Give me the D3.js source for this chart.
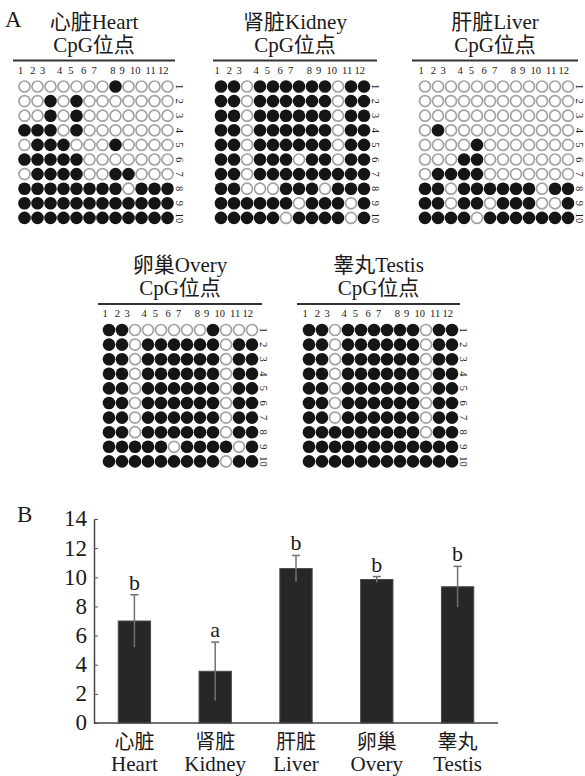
<!DOCTYPE html>
<html>
<head>
<meta charset="utf-8">
<script src="https://cdn.jsdelivr.net/npm/d3@7"></script>
<style>
  body { margin: 0; background: #fff; }
  svg text { font-family: "Liberation Serif", "Noto Sans CJK SC", serif; fill: #1a1a1a; }
</style>
</head>
<body>
<script>
// ---- data ----
// methylation status per clone (row) and CpG site (column), 1 = methylated
var heartRows = ["000000010000", "001010000000", "001010000000", "111010000000", "011100010000",
                 "111110000000", "011110011000", "111111110111", "111111111111", "111111111111"];
var kidneyRows = ["110111111011", "110111111011", "110111111011", "110111111011", "110111111011",
                  "110111011011", "110111111111", "110001110111", "111111011101", "111110111101"];
var liverRows = ["000000000000", "000000000000", "000000000000", "010000000000", "000010000000",
                 "000110000000", "011110000000", "110111111011", "110110111001", "111101111111"];
var ovaryRows = ["110000001000", "110111111011", "110111111011", "110111111011", "110111111011",
                 "110111111011", "110111111011", "110111111011", "111110111101", "111111111011"];
var testisRows = ["110111111011", "110111111011", "110111111011", "110111111011", "110111111011",
                  "110111111011", "110111111011", "111111111011", "111111111111", "111111111111"];

var cpgLabels = ["1", "2", "3", "4", "5", "6", "7", "8", "9", "10", "11", "12"];
var cloneLabels = ["1", "2", "3", "4", "5", "6", "7", "8", "9", "10"];

// bar chart (B)
var tissuesCn = ["心脏", "肾脏", "肝脏", "卵巢", "睾丸"];
var tissuesEn = ["Heart", "Kidney", "Liver", "Overy", "Testis"];
var meanValues = [7.0, 3.55, 10.6, 9.85, 9.35];
var sdValues = [1.8, 2.0, 0.9, 0.2, 1.4];
var sigLetters = ["b", "a", "b", "b", "b"];
var yTicks = [0, 2, 4, 6, 8, 10, 12, 14];

// ---- layout ----
var W = 585, H = 776;
var dx = 13, dy = 14.6;
// label positions along the line, in column units (sites are not evenly spaced)
var colLabelPos = [-0.3, 0.65, 1.4, 2.7, 3.57, 4.55, 5.35, 6.8, 7.5, 8.52, 9.7, 10.67];

var panels = [
  { cn: "心脏", en: "Heart", rows: heartRows, x0: 24.5, y0: 86.5, lx1: 13, lx2: 175 },
  { cn: "肾脏", en: "Kidney", rows: kidneyRows, x0: 221, y0: 86.5, lx1: 213, lx2: 377 },
  { cn: "肝脏", en: "Liver", rows: liverRows, x0: 425, y0: 86.5, lx1: 412, lx2: 578 },
  { cn: "卵巢", en: "Overy", rows: ovaryRows, x0: 109, y0: 330, lx1: 98, lx2: 262 },
  { cn: "睾丸", en: "Testis", rows: testisRows, x0: 309, y0: 330, lx1: 297, lx2: 460 }
];

var svg = d3.select("body").append("svg").attr("width", W).attr("height", H);

// panel letters
svg.append("text").attr("x", 5).attr("y", 27).attr("font-size", 23).text("A");
svg.append("text").attr("x", 17).attr("y", 522).attr("font-size", 23).text("B");

// ---- A: methylation grids ----
panels.forEach(function (p) {
  var g = svg.append("g");
  var xCol = d3.scaleLinear().domain([0, 11]).range([p.x0, p.x0 + 11 * dx]);
  var yRow = d3.scaleLinear().domain([0, 9]).range([p.y0, p.y0 + 9 * dy]);
  var lineY = p.y0 - 26;
  var cx = (p.lx1 + p.lx2) / 2;

  // titles
  g.append("text").attr("x", cx).attr("y", lineY - 32).attr("text-anchor", "middle")
    .attr("font-size", 21).text(p.cn + p.en);
  g.append("text").attr("x", cx).attr("y", lineY - 9).attr("text-anchor", "middle")
    .attr("font-size", 21).text("CpG位点");

  g.append("line").attr("x1", p.lx1).attr("x2", p.lx2).attr("y1", lineY).attr("y2", lineY)
    .attr("stroke", "#333").attr("stroke-width", 2);

  // CpG site numbers
  g.selectAll(".cl").data(cpgLabels).enter().append("text")
    .attr("x", function (d, i) { return xCol(colLabelPos[i]); })
    .attr("y", lineY + 13)
    .attr("text-anchor", "middle").attr("font-size", 10.5)
    .text(function (d) { return d; });

  // clone numbers (rotated)
  g.selectAll(".rl").data(cloneLabels).enter().append("text")
    .attr("transform", function (d, i) { return "translate(" + (xCol(11) + 12) + "," + yRow(i) + ") rotate(90)"; })
    .attr("text-anchor", "middle").attr("dy", "0.35em").attr("font-size", 10.5)
    .text(function (d) { return d; });

  // circles
  var cells = [];
  p.rows.forEach(function (r, ri) {
    r.split("").forEach(function (c, ci) { cells.push({ r: ri, c: ci, m: c === "1" }); });
  });
  g.selectAll("circle").data(cells).enter().append("circle")
    .attr("cx", function (d) { return xCol(d.c); })
    .attr("cy", function (d) { return yRow(d.r); })
    .attr("r", function (d) { return d.m ? 6.3 : 5.5; })
    .attr("fill", function (d) { return d.m ? "#151515" : "#fff"; })
    .attr("stroke", function (d) { return d.m ? "none" : "#a3a3a3"; })
    .attr("stroke-width", 1.7);
});

// ---- B: bar chart ----
var x = d3.scaleBand().domain(tissuesEn).range([94, 498]).paddingInner(0.6).paddingOuter(0.3);
var y = d3.scaleLinear().domain([0, 14]).range([723, 519]);

var yAxis = d3.axisLeft(y).tickValues(yTicks).tickSizeInner(-4).tickSizeOuter(0).tickPadding(7);
var ga = svg.append("g").attr("transform", "translate(94,0)").call(yAxis);
ga.select(".domain").attr("stroke", "#444").attr("stroke-width", 1.5);
ga.selectAll(".tick line").attr("stroke", "#555");
ga.selectAll(".tick text").attr("font-size", 23).attr("fill", "#1a1a1a")
  .attr("font-family", "Liberation Serif, serif").attr("dy", "0.3em");

// bars
svg.selectAll(".bar").data(meanValues).enter().append("rect")
  .attr("x", function (d, i) { return x(tissuesEn[i]); })
  .attr("y", function (d) { return y(d); })
  .attr("width", x.bandwidth())
  .attr("height", function (d) { return y(0) - y(d); })
  .attr("fill", "#272727").attr("stroke", "#4a4a4a").attr("stroke-width", 1);

// x axis line
svg.append("line").attr("x1", 94).attr("x2", 498).attr("y1", y(0)).attr("y2", y(0))
  .attr("stroke", "#444").attr("stroke-width", 1.5);

// error bars
var eb = svg.selectAll(".eb").data(meanValues).enter().append("g");
eb.append("line")
  .attr("x1", function (d, i) { return x(tissuesEn[i]) + x.bandwidth() / 2; })
  .attr("x2", function (d, i) { return x(tissuesEn[i]) + x.bandwidth() / 2; })
  .attr("y1", function (d, i) { return y(d - sdValues[i]); })
  .attr("y2", function (d, i) { return y(d + sdValues[i]); })
  .attr("stroke", "#707070").attr("stroke-width", 1.5);
eb.append("line")
  .attr("x1", function (d, i) { return x(tissuesEn[i]) + x.bandwidth() / 2 - 4; })
  .attr("x2", function (d, i) { return x(tissuesEn[i]) + x.bandwidth() / 2 + 4; })
  .attr("y1", function (d, i) { return y(d + sdValues[i]); })
  .attr("y2", function (d, i) { return y(d + sdValues[i]); })
  .attr("stroke", "#707070").attr("stroke-width", 1.5);

// significance letters
svg.selectAll(".sig").data(sigLetters).enter().append("text")
  .attr("x", function (d, i) { return x(tissuesEn[i]) + x.bandwidth() / 2; })
  .attr("y", function (d, i) { return y(meanValues[i] + sdValues[i]) - 5; })
  .attr("text-anchor", "middle").attr("font-size", 22)
  .text(function (d) { return d; });

// category labels
svg.selectAll(".cn").data(tissuesCn).enter().append("text")
  .attr("x", function (d, i) { return x(tissuesEn[i]) + x.bandwidth() / 2; })
  .attr("y", 749).attr("text-anchor", "middle").attr("font-size", 20)
  .text(function (d) { return d; });
svg.selectAll(".en").data(tissuesEn).enter().append("text")
  .attr("x", function (d) { return x(d) + x.bandwidth() / 2; })
  .attr("y", 771).attr("text-anchor", "middle").attr("font-size", 21)
  .text(function (d) { return d; });
</script>
</body>
</html>
